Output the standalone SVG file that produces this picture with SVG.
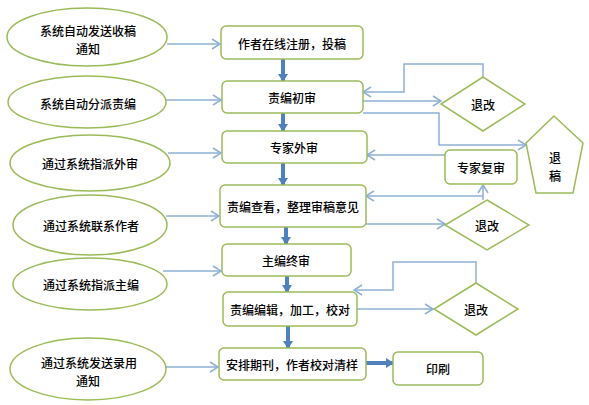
<svg xmlns="http://www.w3.org/2000/svg" width="589" height="405" viewBox="0 0 589 405">
<defs>
<style>
.ell{fill:#fff;stroke:#9bbb59;stroke-width:1.5}
.box{fill:#fff;stroke:#9bbb59;stroke-width:1.5}
.t{font-family:"Noto Sans CJK SC","Microsoft YaHei",sans-serif;font-size:12px;font-weight:500;fill:#000;text-anchor:middle;dominant-baseline:central}
.c{fill:none;stroke:#8eb0d6;stroke-width:1.5;marker-end:url(#open)}
.thick{fill:none;stroke:#4f81bd;stroke-width:4;marker-end:url(#solid)}
</style>
<marker id="open" markerUnits="userSpaceOnUse" markerWidth="12" markerHeight="12" refX="9" refY="6" orient="auto" viewBox="0 0 12 12">
<path d="M1,1 L9,6 L1,11" fill="none" stroke="#8eb0d6" stroke-width="1.5"/>
</marker>
<marker id="solid" markerUnits="userSpaceOnUse" markerWidth="8" markerHeight="10" refX="7" refY="5" orient="auto" viewBox="0 0 8 10">
<path d="M0,0 L8,5 L0,10 Z" fill="#4f81bd"/>
</marker>
</defs>
<rect width="589" height="405" fill="#fff"/>

<g id="connectors">
<path class="c" d="M167,44 H220"/>
<path class="c" d="M166,100 H221"/>
<path class="c" d="M168,153 H221"/>
<path class="c" d="M166,216 H219"/>
<path class="c" d="M163,271 H221"/>
<path class="c" d="M166,367 H218"/>
<path class="thick" d="M283,59 V81"/>
<path class="thick" d="M283,113 V131"/>
<path class="thick" d="M283,163 V185"/>
<path class="thick" d="M286,227 V244"/>
<path class="thick" d="M287,276 V292"/>
<path class="thick" d="M288,326 V348"/>
<path class="thick" d="M366,363 H393"/>
<path class="c" d="M363,101 H441"/>
<path class="c" d="M483,77 V64 H404 V92 H363"/>
<path class="c" d="M363,113 H439 V145 H526"/>
<path class="c" d="M445,155 H367"/>
<path class="c" d="M483,200 V185"/>
<path class="c" d="M483,196 H366"/>
<path class="c" d="M366,224 H445"/>
<path class="c" d="M476,283 V262 H393 V290 H354"/>
<path class="c" d="M357,309 H433"/>
</g>

<g id="e1"><ellipse class="ell" cx="87" cy="37" rx="80" ry="29"/><text class="t" x="88" y="30">系统自动发送收稿</text><text class="t" x="88" y="48">通知</text></g>
<g id="e2"><ellipse class="ell" cx="87" cy="102" rx="79" ry="26"/><text class="t" x="88" y="103">系统自动分派责编</text></g>
<g id="e3"><ellipse class="ell" cx="90" cy="163" rx="80" ry="28"/><text class="t" x="90" y="163">通过系统指派外审</text></g>
<g id="e4"><ellipse class="ell" cx="90" cy="225" rx="77" ry="30"/><text class="t" x="91" y="225">通过系统联系作者</text></g>
<g id="e5"><ellipse class="ell" cx="90" cy="284" rx="77" ry="26"/><text class="t" x="91" y="284">通过系统指派主编</text></g>
<g id="e6"><ellipse class="ell" cx="88" cy="369" rx="78" ry="31"/><text class="t" x="89" y="362">通过系统发送录用</text><text class="t" x="88" y="380">通知</text></g>

<g id="b1"><rect class="box" x="221" y="26" width="142" height="33" rx="5"/><text class="t" x="292" y="43">作者在线注册，投稿</text></g>
<g id="b2"><rect class="box" x="222" y="81" width="141" height="32" rx="5"/><text class="t" x="292" y="97">责编初审</text></g>
<g id="b3"><rect class="box" x="222" y="131" width="145" height="32" rx="5"/><text class="t" x="294" y="147">专家外审</text></g>
<g id="b4"><rect class="box" x="220" y="185" width="146" height="42" rx="5"/><text class="t" x="293" y="206">责编查看，整理审稿意见</text></g>
<g id="b5"><rect class="box" x="222" y="244" width="129" height="32" rx="5"/><text class="t" x="286" y="260">主编终审</text></g>
<g id="b6"><rect class="box" x="223" y="292" width="134" height="34" rx="5"/><text class="t" x="290" y="309">责编编辑，加工，校对</text></g>
<g id="b7"><rect class="box" x="219" y="348" width="147" height="32" rx="5"/><text class="t" x="292" y="364">安排期刊，作者校对清样</text></g>
<g id="b8"><rect class="box" x="393" y="352" width="90" height="33" rx="5"/><text class="t" x="438" y="368">印刷</text></g>
<g id="b9"><rect class="box" x="445" y="150" width="72" height="34" rx="5"/><text class="t" x="481" y="167">专家复审</text></g>

<g id="d1"><polygon class="box" points="483,77 525,104 483,131 441,104"/><text class="t" x="483" y="104">退改</text></g>
<g id="d2"><polygon class="box" points="487,200 529,225 487,250 445,225"/><text class="t" x="487" y="225">退改</text></g>
<g id="d3"><polygon class="box" points="476,283 518,309 476,335 434,309"/><text class="t" x="476" y="309">退改</text></g>
<g id="p1"><polygon class="box" points="554,116 583,143 573,193 536,193 526,143"/><text class="t" x="555" y="157">退</text><text class="t" x="555" y="175">稿</text></g>
</svg>
